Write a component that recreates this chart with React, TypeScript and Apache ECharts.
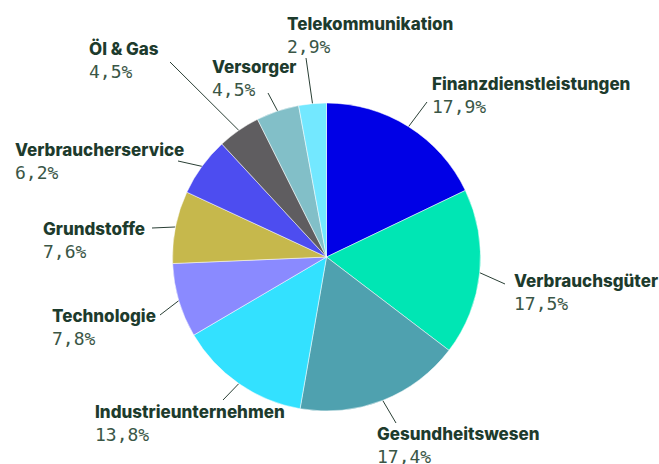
import React, { useEffect, useRef } from "react";
import * as echarts from "echarts";

const categories = [
  "Finanzdienstleistungen",
  "Verbrauchsgüter",
  "Gesundheitswesen",
  "Industrieunternehmen",
  "Technologie",
  "Grundstoffe",
  "Verbraucherservice",
  "Öl & Gas",
  "Versorger",
  "Telekommunikation",
];
const values = [17.9, 17.5, 17.4, 13.8, 7.8, 7.6, 6.2, 4.5, 4.5, 2.9];
const colors = [
  "#0000e6",
  "#00e6b4",
  "#4fa1af",
  "#33e1ff",
  "#8a8aff",
  "#c6b84c",
  "#4d4df0",
  "#5f5d60",
  "#82bfc8",
  "#73e8ff",
];
// label block top-left positions (layout only)
const labelPositions: [number, number][] = [
  [427, 68],
  [509, 265],
  [372, 418],
  [90, 396],
  [47, 300],
  [38, 213],
  [10, 134],
  [84, 33],
  [207, 51],
  [282, 8],
];
// where each leader line ends next to its label (layout only)
const labelLineEnds: [number, number][] = [
  [427, 102],
  [505, 284],
  [396, 423],
  [223, 400],
  [160, 315],
  [152, 228],
  [178, 161],
  [170, 62],
  [268, 93],
  [306, 58],
];

export default function App() {
  const ref = useRef<HTMLDivElement>(null);
  useEffect(() => {
    if (!ref.current) return;
    const chart = echarts.init(ref.current, undefined, { renderer: "svg" });
    chart.setOption({
      animation: false,
      backgroundColor: "#ffffff",
      series: [
        {
          type: "pie",
          center: [326.5, 257],
          radius: [0, 154],
          startAngle: 90,
          clockwise: true,
          data: categories.map((name, i) => ({
            name,
            value: values[i],
            itemStyle: { color: colors[i] },
          })),
          itemStyle: { borderColor: "#ffffff", borderWidth: 0.5 },
          label: {
            show: true,
            position: "outside",
            padding: 5,
            overflow: "none",
            formatter: (p: any) =>
              `{n|${p.name}}\n{v|${p.value.toFixed(1).replace(".", ",")}%}`,
            rich: {
              n: {
                fontFamily: "Inter",
                fontWeight: 800,
                fontSize: 17,
                color: "#1d3b2d",
                lineHeight: 22,
              },
              v: {
                fontFamily: "DejaVu Sans Mono",
                fontSize: 18,
                color: "#3a5646",
                lineHeight: 22,
              },
            },
          },
          labelLine: {
            show: true,
            length: 10,
            length2: 0,
            lineStyle: { color: "#2a3f35", width: 1 },
          },
          labelLayout: (params: any) => {
            const i = params.dataIndex;
            const p = labelPositions[i];
            const start =
              params.labelLinePoints && params.labelLinePoints[0]
                ? params.labelLinePoints[0]
                : labelLineEnds[i];
            return {
              x: p[0],
              y: p[1],
              align: "left",
              verticalAlign: "top",
              labelLinePoints: [start, labelLineEnds[i]],
            };
          },
          emphasis: { disabled: true },
        },
      ],
    });
    return () => chart.dispose();
  }, []);
  return (
    <div
      ref={ref}
      style={{ position: "fixed", left: 0, top: 0, width: 659, height: 464 }}
    />
  );
}
